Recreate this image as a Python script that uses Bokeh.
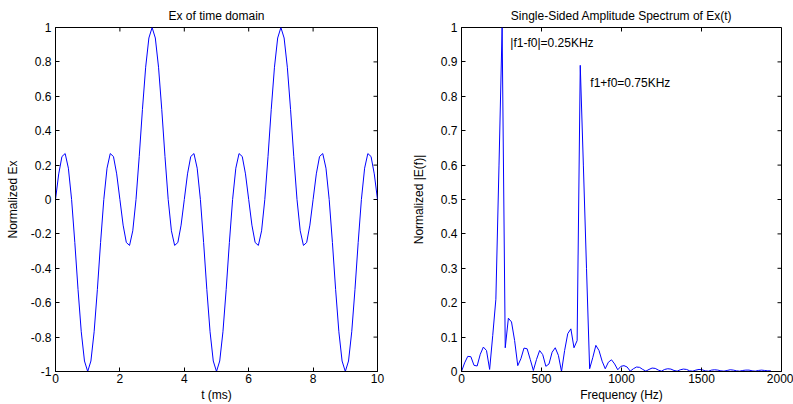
import math
from bokeh.plotting import figure
from bokeh.models import FixedTicker, CustomJSTickFormatter, Range1d, Label
from bokeh.layouts import row
from bokeh.embed import file_html
from bokeh.resources import INLINE

FONT = "Liberation Sans"
FS = "12px"

# ---- time domain data (t in ms, normalized Ex) ----
t_ms = [0.0, 0.1, 0.2, 0.3, 0.4, 0.5, 0.6, 0.7, 0.8, 0.9,
        1.0, 1.1, 1.2, 1.3, 1.4, 1.5, 1.6, 1.7, 1.8, 1.9,
        2.0, 2.1, 2.2, 2.3, 2.4, 2.5, 2.6, 2.7, 2.8, 2.9,
        3.0, 3.1, 3.2, 3.3, 3.4, 3.5, 3.6, 3.7, 3.8, 3.9,
        4.0, 4.1, 4.2, 4.3, 4.4, 4.5, 4.6, 4.7, 4.8, 4.9,
        5.0, 5.1, 5.2, 5.3, 5.4, 5.5, 5.6, 5.7, 5.8, 5.9,
        6.0, 6.1, 6.2, 6.3, 6.4, 6.5, 6.6, 6.7, 6.8, 6.9,
        7.0, 7.1, 7.2, 7.3, 7.4, 7.5, 7.6, 7.7, 7.8, 7.9,
        8.0, 8.1, 8.2, 8.3, 8.4, 8.5, 8.6, 8.7, 8.8, 8.9,
        9.0, 9.1, 9.2, 9.3, 9.4, 9.5, 9.6, 9.7, 9.8, 9.9, 10.0]
ex = [0, 0.149, 0.25, 0.267, 0.182, 0, -0.25, -0.524, -0.769, -0.939,
      -1, -0.939, -0.769, -0.524, -0.25, 0, 0.182, 0.267, 0.25, 0.149,
      0, -0.149, -0.25, -0.267, -0.182, 0, 0.25, 0.524, 0.769, 0.939,
      1, 0.939, 0.769, 0.524, 0.25, 0, -0.182, -0.267, -0.25, -0.149,
      0, 0.149, 0.25, 0.267, 0.182, 0, -0.25, -0.524, -0.769, -0.939,
      -1, -0.939, -0.769, -0.524, -0.25, 0, 0.182, 0.267, 0.25, 0.149,
      0, -0.149, -0.25, -0.267, -0.182, 0, 0.25, 0.524, 0.769, 0.939,
      1, 0.939, 0.769, 0.524, 0.25, 0, -0.182, -0.267, -0.25, -0.149,
      0, 0.149, 0.25, 0.267, 0.182, 0, -0.25, -0.524, -0.769, -0.939,
      -1, -0.939, -0.769, -0.524, -0.25, 0, 0.182, 0.267, 0.25, 0.149, 0]

# ---- spectrum data (Hz, normalized |E(f)|) ----
freq_hz = [0.0, 19.5, 39.1, 58.6, 78.1, 97.7, 117.2, 136.7, 156.3, 175.8,
           195.3, 214.8, 234.4, 253.9, 273.4, 293.0, 312.5, 332.0, 351.6, 371.1,
           390.6, 410.2, 429.7, 449.2, 468.8, 488.3, 507.8, 527.3, 546.9, 566.4,
           585.9, 605.5, 625.0, 644.5, 664.1, 683.6, 703.1, 722.7, 742.2, 761.7,
           781.3, 800.8, 820.3, 839.8, 859.4, 878.9, 898.4, 918.0, 937.5, 957.0,
           976.6, 996.1, 1015.6, 1035.2, 1054.7, 1074.2, 1093.8, 1113.3, 1132.8, 1152.3,
           1171.9, 1191.4, 1210.9, 1230.5, 1250.0, 1269.5, 1289.1, 1308.6, 1328.1, 1347.7,
           1367.2, 1386.7, 1406.3, 1425.8, 1445.3, 1464.8, 1484.4, 1503.9, 1523.4, 1543.0,
           1562.5, 1582.0, 1601.6, 1621.1, 1640.6, 1660.2, 1679.7, 1699.2, 1718.8, 1738.3,
           1757.8, 1777.3, 1796.9, 1816.4, 1835.9, 1855.5, 1875.0, 1894.5, 1914.1, 1933.6]
amp = [0.0, 0.025, 0.044, 0.043, 0.018, 0.016, 0.05, 0.071, 0.061, 0.006,
       0.105, 0.21, 0.6, 1.0, 0.069, 0.155, 0.144, 0.09, 0.017, 0.037,
       0.068, 0.066, 0.035, 0.003, 0.035, 0.061, 0.049, 0.015, 0.022, 0.056,
       0.069, 0.047, 0.0, 0.061, 0.11, 0.124, 0.069, 0.09, 0.89, 0.6,
       0.3, 0.008, 0.04, 0.076, 0.061, 0.03, 0.008, 0.027, 0.034, 0.022,
       0.005, 0.015, 0.017, 0.013, 0.001, 0.008, 0.013, 0.012, 0.006, 0.001,
       0.006, 0.01, 0.009, 0.004, 0.001, 0.006, 0.008, 0.007, 0.003, 0.001,
       0.005, 0.007, 0.006, 0.002, 0.001, 0.004, 0.006, 0.005, 0.002, 0.001,
       0.004, 0.005, 0.004, 0.002, 0.001, 0.003, 0.005, 0.004, 0.002, 0.001,
       0.003, 0.004, 0.004, 0.002, 0.001, 0.003, 0.004, 0.003, 0.002, 0.002]

t_ticks = [0, 2, 4, 6, 8, 10]
ex_ticks = [-1, -0.8, -0.6, -0.4, -0.2, 0, 0.2, 0.4, 0.6, 0.8, 1]
f_ticks = [0, 500, 1000, 1500, 2000]
amp_ticks = [0, 0.1, 0.2, 0.3, 0.4, 0.5, 0.6, 0.7, 0.8, 0.9, 1]

annot1 = "|f1-f0|=0.25KHz"
annot2 = "f1+f0=0.75KHz"

FMT_CODE = "return String(Math.round(tick*1000)/1000);"


def make_fig(width, mb_left, mb_right, xr, yr, title):
    p = figure(width=width, height=404, output_backend="svg", toolbar_location=None,
               x_range=Range1d(*xr), y_range=Range1d(*yr), title=title,
               min_border_left=mb_left, min_border_right=mb_right,
               min_border_top=27, min_border_bottom=33)
    p.title.align = "center"
    p.title.text_font = FONT
    p.title.text_font_size = FS
    p.title.text_font_style = "normal"
    p.title.text_color = "black"
    p.title.standoff = 9
    p.title.offset = 0
    p.xgrid.visible = False
    p.ygrid.visible = False
    p.outline_line_color = "black"
    p.outline_line_width = 1
    p.background_fill_color = "white"
    p.border_fill_color = "white"
    return p


def style_axis(ax, ticks, label, tick_standoff, label_standoff):
    ax.ticker = FixedTicker(ticks=ticks)
    ax.formatter = CustomJSTickFormatter(code=FMT_CODE)
    ax.major_tick_in = 4
    ax.major_tick_out = 0
    ax.minor_tick_line_color = None
    ax.axis_line_color = "black"
    ax.major_tick_line_color = "black"
    ax.major_label_text_font = FONT
    ax.major_label_text_font_size = FS
    ax.major_label_text_color = "black"
    ax.major_label_standoff = tick_standoff
    ax.axis_label = label
    ax.axis_label_text_font = FONT
    ax.axis_label_text_font_style = "normal"
    ax.axis_label_text_font_size = FS
    ax.axis_label_text_color = "black"
    ax.axis_label_standoff = label_standoff


def finish(p, xticks, yticks, xr, yr, xlabel, ylabel, ylabel_standoff):
    style_axis(p.xaxis[0], xticks, xlabel, 2, 2)
    style_axis(p.yaxis[0], yticks, ylabel, 4, ylabel_standoff)
    # inward tick marks on the top and right edges of the box
    p.ray(x=xticks, y=[yr[1]] * len(xticks), length=4, length_units="screen",
          angle=-math.pi / 2, line_color="black", line_width=1)
    p.ray(x=[xr[1]] * len(yticks), y=yticks, length=4, length_units="screen",
          angle=math.pi, line_color="black", line_width=1)


t_range = (0, 10)
ex_range = (-1, 1)
f_range = (0, 2000)
amp_range = (0, 1)

p1 = make_fig(408, 55, 31, t_range, ex_range, "Ex of time domain")
p1.line(t_ms, ex, line_color="#0000FF", line_width=1)
finish(p1, t_ticks, ex_ticks, t_range, ex_range, "t (ms)", "Normalized Ex", 8)

p2 = make_fig(385, 51, 12, f_range, amp_range, "Single-Sided Amplitude Spectrum of Ex(t)")
p2.line(freq_hz, amp, line_color="#0000FF", line_width=1)
finish(p2, f_ticks, amp_ticks, f_range, amp_range, "Frequency (Hz)", "Normalized |E(f)|", 12)
p2.add_layout(Label(x=305, y=0.955, text=annot1, text_baseline="middle", text_align="left",
                    text_font=FONT, text_font_size=FS, text_color="black"))
p2.add_layout(Label(x=805, y=0.84, text=annot2, text_baseline="middle", text_align="left",
                    text_font=FONT, text_font_size=FS, text_color="black"))

layout = row(p1, p2)
open("out.html", "w").write(file_html(layout, INLINE))
